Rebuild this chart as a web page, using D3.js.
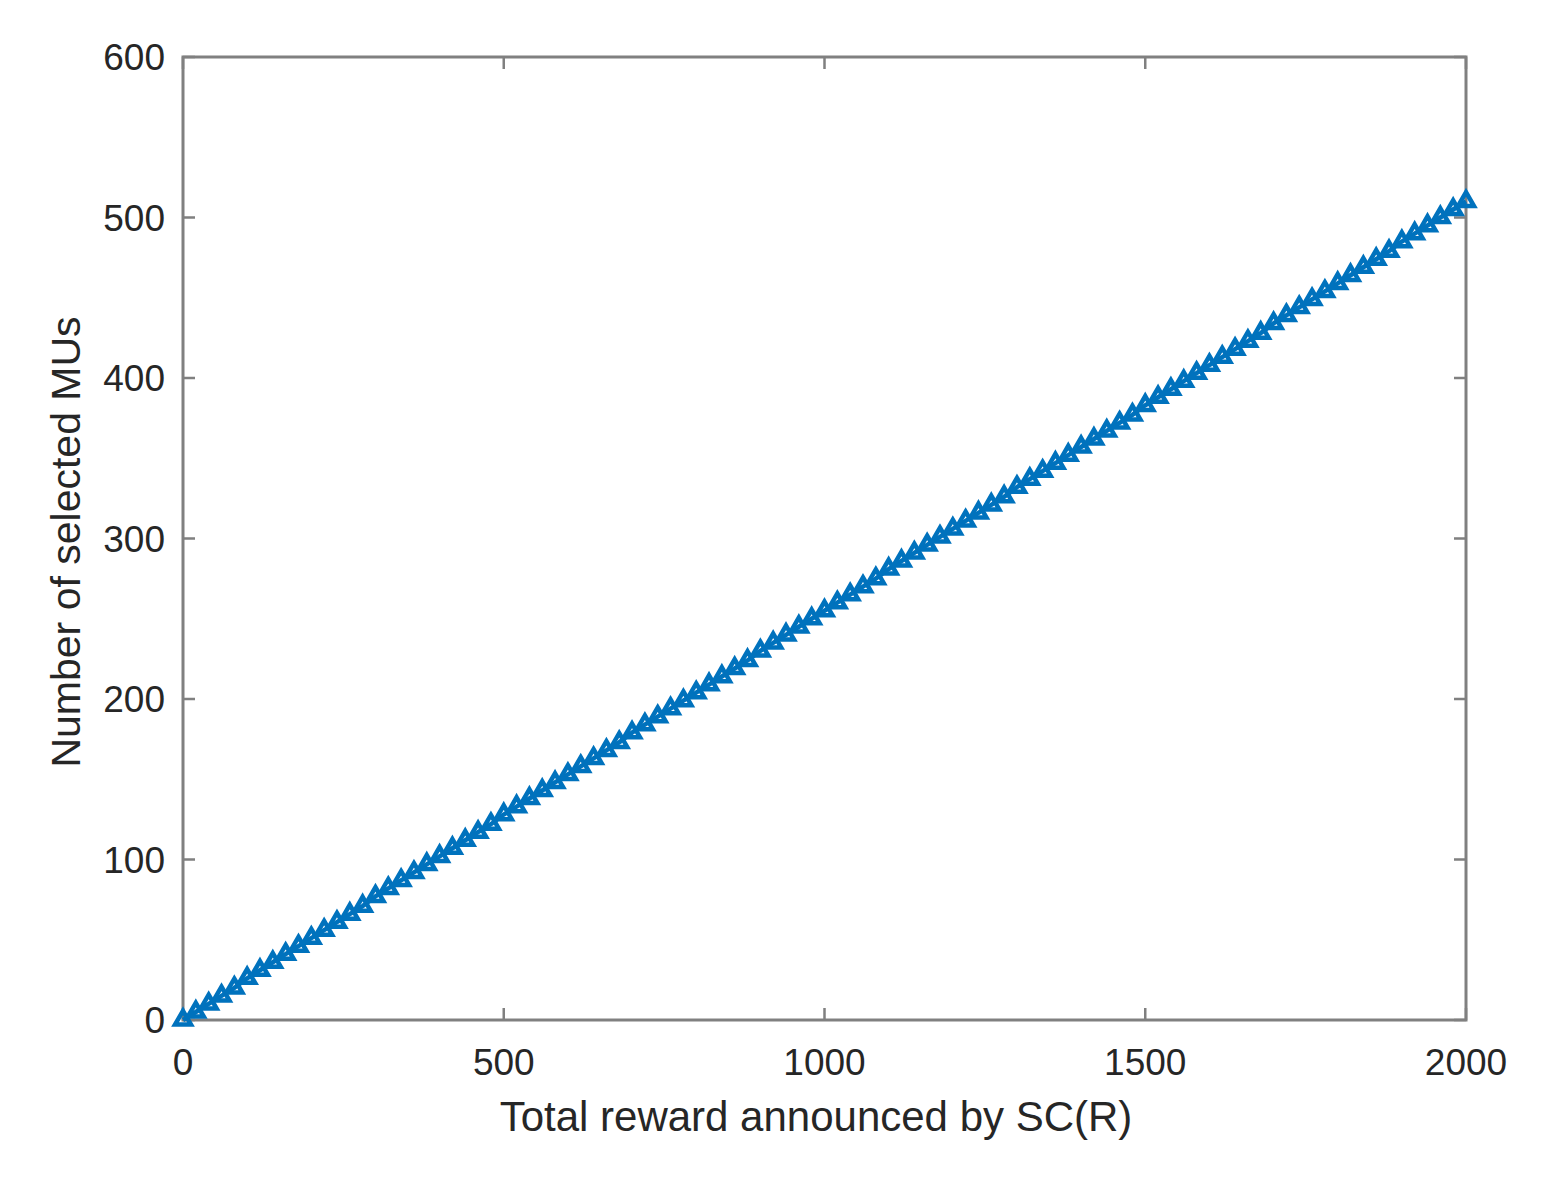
<!DOCTYPE html>
<html>
<head>
<meta charset="utf-8">
<script src="https://cdn.jsdelivr.net/npm/d3@7"></script>
<style>
body { margin: 0; background: #fff; }
text { font-family: "Liberation Sans", Arial, sans-serif; fill: #262626; }
</style>
</head>
<body>
<div id="a"></div>
<script>
// reward R announced by SC
var rewards = [0,20,40,60,80,100,120,140,160,180,200,220,240,260,280,300,320,340,360,380,
  400,420,440,460,480,500,520,540,560,580,600,620,640,660,680,700,720,740,760,780,
  800,820,840,860,880,900,920,940,960,980,1000,1020,1040,1060,1080,1100,1120,1140,1160,1180,
  1200,1220,1240,1260,1280,1300,1320,1340,1360,1380,1400,1420,1440,1460,1480,1500,1520,1540,1560,1580,
  1600,1620,1640,1660,1680,1700,1720,1740,1760,1780,1800,1820,1840,1860,1880,1900,1920,1940,1960,1980,2000]
// number of selected MUs
var selected = [0,5,10,15,20,26,31,36,41,46,51,56,61,66,71,77,82,87,92,97,
  102,107,112,117,122,128,133,138,143,148,153,158,163,168,173,179,184,189,194,199,
  204,209,214,219,224,230,235,240,245,250,255,260,265,270,275,281,286,291,296,301,
  306,311,316,321,326,332,337,342,347,352,357,362,367,372,377,383,388,393,398,403,
  408,413,418,423,428,434,439,444,449,454,459,464,469,474,479,485,490,495,500,505,510]
var xTicks = [0,500,1000,1500,2000]
var yTicks = [0,100,200,300,400,500,600]

var W = 1560, H = 1179
var pL = 183, pR = 1466, pT = 57, pB = 1020

svg = d3.select("#a").append("svg")
  .attr("width", W)
  .attr("height", H)

var x = d3.scaleLinear().domain([0,2000]).range([pL,pR])
var y = d3.scaleLinear().domain([0,600]).range([pB,pT])

var tickLen = 12
var axisColor = "#808080"

// ticks, inward on all four sides
svg.selectAll(".xt").data(xTicks).enter().append("path")
  .attr("d", function(d){ var px = x(d); return "M"+px+","+pB+"V"+(pB-tickLen)+"M"+px+","+pT+"V"+(pT+tickLen) })
  .attr("stroke", axisColor).attr("stroke-width", 2.5)
svg.selectAll(".yt").data(yTicks).enter().append("path")
  .attr("d", function(d){ var py = y(d); return "M"+pL+","+py+"H"+(pL+tickLen)+"M"+pR+","+py+"H"+(pR-tickLen) })
  .attr("stroke", axisColor).attr("stroke-width", 2.5)

svg.append("rect")
  .attr("x", pL).attr("y", pT)
  .attr("width", pR-pL).attr("height", pB-pT)
  .attr("fill", "none").attr("stroke", axisColor).attr("stroke-width", 3)

svg.selectAll(".xl").data(xTicks).enter().append("text")
  .attr("x", function(d){ return x(d) })
  .attr("y", pB + 55)
  .attr("text-anchor", "middle")
  .style("font-size", "37px")
  .text(function(d){ return d })
svg.selectAll(".yl").data(yTicks).enter().append("text")
  .attr("x", pL - 18)
  .attr("y", function(d){ return y(d) + 13 })
  .attr("text-anchor", "end")
  .style("font-size", "37px")
  .text(function(d){ return d })

svg.append("text")
  .attr("x", 816)
  .attr("y", 1131)
  .attr("text-anchor", "middle")
  .style("font-size", "42px")
  .text("Total reward announced by SC(R)")
svg.append("text")
  .attr("transform", "translate(80,542) rotate(-90)")
  .attr("text-anchor", "middle")
  .style("font-size", "41px")
  .text("Number of selected MUs")

var pts = rewards.map(function(r,i){ return [r, selected[i]] })
var blue = "#0072BD"

svg.append("path")
  .datum(pts)
  .attr("d", d3.line().x(function(d){ return x(d[0]) }).y(function(d){ return y(d[1]) }))
  .attr("fill", "none").attr("stroke", blue).attr("stroke-width", 4.5)

svg.selectAll(".m").data(pts).enter().append("path")
  .attr("d", d3.symbol().type(d3.symbolTriangle).size(110))
  .attr("transform", function(d){ return "translate(" + x(d[0]) + "," + y(d[1]) + ")" })
  .attr("fill", "none").attr("stroke", blue).attr("stroke-width", 4.5)
</script>
</body>
</html>
